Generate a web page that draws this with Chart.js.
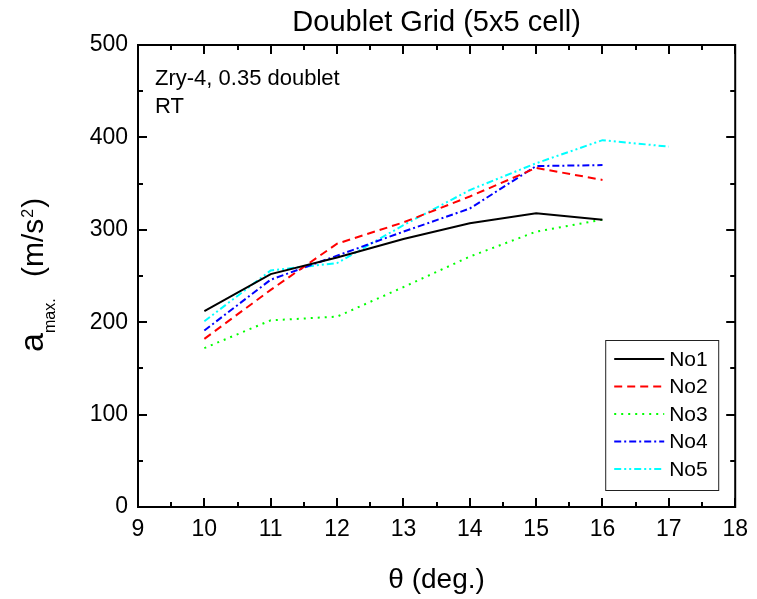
<!DOCTYPE html>
<html>
<head>
<meta charset="utf-8">
<script src="https://cdn.jsdelivr.net/npm/chart.js@4.4.1/dist/chart.umd.min.js"></script>
<style>
  html, body { margin: 0; padding: 0; background: #fff; }
  #wrap { width: 757px; height: 599px; }
</style>
</head>
<body>
<div id="wrap"><canvas id="doubletChart" width="757" height="599"></canvas></div>
<script>
// theta (deg.) positions
var theta = [10, 11, 12, 13, 14, 15, 16];
var theta5 = [10, 11, 12, 13, 14, 15, 16, 17];

// a max. (m/s^2)
var no1 = [212, 252, 270, 290, 307, 318, 311];
var no2 = [182, 235, 285, 308, 336, 367, 354];
var no3 = [172, 202, 206, 238, 271, 298, 311];
var no4 = [191, 246, 272, 298, 323, 369, 370];
var no5 = [201, 256, 264, 305, 343, 372, 397, 390];

var seriesNames = ['No1', 'No2', 'No3', 'No4', 'No5'];
var seriesColors = ['#000000', '#ff0000', '#00ff00', '#0000ff', '#00ffff'];
var seriesDash = [[], [8, 5], [2, 5], [7, 3, 2, 3], [7, 3, 2, 3, 2, 3]];

var xTicks = [9, 10, 11, 12, 13, 14, 15, 16, 17, 18];
var yTicks = [0, 100, 200, 300, 400, 500];

var FONT = "'Liberation Sans', Arial, Helvetica, sans-serif";

function toPoints(xs, ys) {
    return ys.map(function(v, i) { return { x: xs[i], y: v }; });
}

var allX = [theta, theta, theta, theta, theta5];
var allY = [no1, no2, no3, no4, no5];

var datasets = seriesNames.map(function(name, i) {
    return {
        label: name,
        data: toPoints(allX[i], allY[i]),
        borderColor: seriesColors[i],
        backgroundColor: seriesColors[i],
        borderDash: seriesDash[i],
        borderWidth: 2,
        pointRadius: 0,
        tension: 0,
        fill: false
    };
});

// frame, inward ticks, titles, note and legend
var decorPlugin = {
    id: 'decor',
    afterDraw: function(chart) {
        var ctx = chart.ctx;
        var a = chart.chartArea;
        var xs = chart.scales.x, ys = chart.scales.y;
        ctx.save();
        ctx.strokeStyle = '#000';
        ctx.lineWidth = 2;
        ctx.setLineDash([]);
        ctx.strokeRect(a.left, a.top, a.right - a.left, a.bottom - a.top);

        ctx.beginPath();
        for (var v = 9; v <= 18.001; v += 0.5) {
            var px = Math.round(xs.getPixelForValue(v));
            var len = (Math.abs(v - Math.round(v)) < 0.01) ? 9 : 5;
            ctx.moveTo(px, a.bottom); ctx.lineTo(px, a.bottom - len);
            ctx.moveTo(px, a.top); ctx.lineTo(px, a.top + len);
        }
        for (var w = 0; w <= 500; w += 50) {
            var py = Math.round(ys.getPixelForValue(w));
            var l2 = (w % 100 === 0) ? 9 : 5;
            ctx.moveTo(a.left, py); ctx.lineTo(a.left + l2, py);
            ctx.moveTo(a.right, py); ctx.lineTo(a.right - l2, py);
        }
        ctx.stroke();

        ctx.fillStyle = '#000';
        ctx.textBaseline = 'alphabetic';

        // title
        ctx.textAlign = 'center';
        ctx.font = '29px ' + FONT;
        ctx.fillText('Doublet Grid (5x5 cell)', (a.left + a.right) / 2, 31);

        // x title
        ctx.font = '28px ' + FONT;
        ctx.fillText('\u03b8 (deg.)', (a.left + a.right) / 2, 588);

        // note
        ctx.textAlign = 'left';
        ctx.font = '22px ' + FONT;
        ctx.fillText('Zry-4, 0.35 doublet', a.left + 17, 85);
        ctx.fillText('RT', a.left + 17, 113);

        // y title, rotated
        ctx.save();
        ctx.translate(43, 352);
        ctx.rotate(-Math.PI / 2);
        var x = 0;
        ctx.font = '34px ' + FONT;
        ctx.fillText('a', x, 0);
        x += ctx.measureText('a').width;
        ctx.font = '16px ' + FONT;
        ctx.fillText('max.', x, 12);
        x = 75;
        ctx.font = '30px ' + FONT;
        ctx.fillText('(m/s', x, 0);
        x += ctx.measureText('(m/s').width;
        ctx.font = '16px ' + FONT;
        ctx.fillText('2', x + 1, -10);
        x += ctx.measureText('2').width + 2;
        ctx.font = '30px ' + FONT;
        ctx.fillText(')', x, 0);
        ctx.restore();

        // legend
        var lx = a.right - 130, ly = a.bottom - 167;
        ctx.lineWidth = 1;
        ctx.strokeStyle = '#222';
        ctx.strokeRect(lx + 0.5, ly + 0.5, 113, 150);
        ctx.font = '21px ' + FONT;
        ctx.textBaseline = 'middle';
        chart.data.datasets.forEach(function(ds, i) {
            var yy = ly + 19 + i * 27.5;
            ctx.strokeStyle = ds.borderColor;
            ctx.lineWidth = 2;
            ctx.setLineDash(ds.borderDash);
            ctx.beginPath();
            ctx.moveTo(lx + 9, yy);
            ctx.lineTo(lx + 59, yy);
            ctx.stroke();
            ctx.setLineDash([]);
            ctx.fillStyle = '#000';
            ctx.fillText(ds.label, lx + 64, yy + 1);
        });
        ctx.restore();
    }
};

var ctx = document.getElementById('doubletChart').getContext('2d');
var doubletChart = new Chart(ctx, {
    type: 'line',
    data: { datasets: datasets },
    options: {
        responsive: false,
        animation: false,
        layout: { padding: { left: 0, top: 45, right: 18, bottom: 0 } },
        plugins: {
            legend: { display: false },
            tooltip: { enabled: false },
            title: { display: false }
        },
        scales: {
            x: {
                type: 'linear',
                min: 9,
                max: 18,
                afterBuildTicks: function(scale) {
                    scale.ticks = xTicks.map(function(v) { return { value: v }; });
                },
                afterFit: function(scale) { scale.height = 92; },
                grid: { display: false, drawTicks: false },
                border: { display: false },
                ticks: {
                    padding: 9,
                    color: '#000',
                    maxRotation: 0,
                    font: { family: FONT, size: 23 }
                }
            },
            y: {
                type: 'linear',
                min: 0,
                max: 500,
                afterBuildTicks: function(scale) {
                    scale.ticks = yTicks.map(function(v) { return { value: v }; });
                },
                afterFit: function(scale) { scale.width = 138; },
                grid: { display: false, drawTicks: false },
                border: { display: false },
                ticks: {
                    padding: 10,
                    color: '#000',
                    font: { family: FONT, size: 23 }
                }
            }
        }
    },
    plugins: [decorPlugin]
});
</script>
</body>
</html>
